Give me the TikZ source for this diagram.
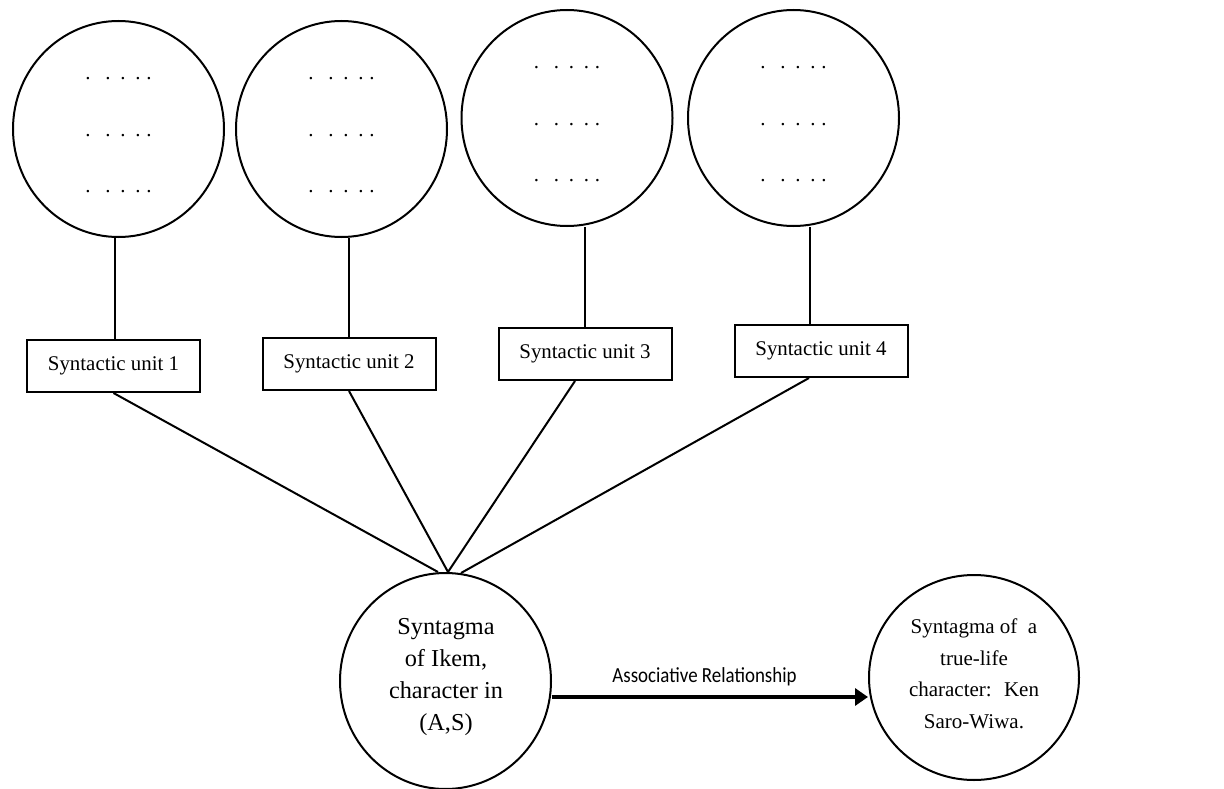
\documentclass[tikz,border=0pt]{standalone}
\usepackage{fontspec}
\setmainfont{Liberation Serif}
\newfontfamily\calib[FakeStretch=0.88]{Carlito}
\usetikzlibrary{shapes.geometric,arrows.meta}
\tikzset{
  ring/.style={draw, ellipse, line width=2pt, minimum width=211pt, minimum height=216pt, inner sep=0pt},
  unitbox/.style={draw, rectangle, line width=2pt, minimum width=173pt, minimum height=52pt, inner sep=0pt, font=\fontsize{20.9}{25}\selectfont},
  dots/.style={anchor=base, inner sep=0pt, font=\fontsize{20.9}{25}\selectfont},
  link/.style={line width=2pt},
  bigtext/.style={align=center, inner sep=0pt, font=\fontsize{24.3}{31.7}\selectfont},
  kentext/.style={align=center, inner sep=0pt, font=\fontsize{21}{31.5}\selectfont},
  arr/.style={line width=3.5pt, -{Triangle[length=13pt,width=17pt]}}
}
\newcommand{\dotrow}{.\hspace{14.8pt}.\hspace{9.8pt}.\hspace{9.8pt}.\hspace{5.8pt}.}
\begin{document}
\begin{tikzpicture}[x=1pt,y=-1pt]
\useasboundingbox (0,0) rectangle (1224,789);
% top circles
\node[ring] (c1) at (118.5,129) {};
\node[ring] (c2) at (341.5,129) {};
\node[ring] (c3) at (567,118) {};
\node[ring] (c4) at (793.5,118) {};
% dots
\foreach \c/\x/\y in {1/118.5/129, 2/341.5/129, 3/567/118, 4/793.5/118}{
  \node[dots] (d\c a) at (\x,\y-49) {\dotrow};
  \node[dots] (d\c b) at (\x,\y+8) {\dotrow};
  \node[dots] (d\c c) at (\x,\y+64) {\dotrow};
}
% boxes
\node[unitbox] (b1) at (113.5,366) {Syntactic unit 1};
\node[unitbox] (b2) at (349,364) {Syntactic unit 2};
\node[unitbox] (b3) at (585,354) {Syntactic unit 3};
\node[unitbox] (b4) at (821,351) {Syntactic unit 4};
% vertical links
\draw[link] ([xshift=1.5pt]b1.north) -- ([xshift=1.5pt]b1.north |- c1.south);
\draw[link] (b2.north) -- (b2.north |- c2.south);
\draw[link] ([xshift=-0.5pt]b3.north) -- ([xshift=-0.5pt]b3.north |- c3.south);
\draw[link] ([xshift=-11.5pt]b4.north) -- ([xshift=-11.5pt]b4.north |- c4.south);
% Ikem circle
\node[draw, ellipse, line width=2pt, minimum width=211pt, minimum height=216pt, inner sep=0pt] (ik) at (445.5,681) {};
\node[bigtext, anchor=base] (ikt) at (446,730) {Syntagma\\of Ikem,\\character in\\(A,S)};
% Ken Saro-Wiwa ellipse
\node[draw, ellipse, line width=2pt, minimum width=210pt, minimum height=205pt, inner sep=0pt] (ks) at (974,677.5) {};
\node[kentext, anchor=base] (kst) at (974,728) {Syntagma of~ a\\true-life\\character:~ Ken\\Saro-Wiwa.};
% diagonal links
\draw[link] (b1.south) -- ([xshift=-7.5pt]ik.north);
\draw[link] (b2.south) -- ([xshift=2.5pt]ik.north);
\draw[link] ([xshift=-10pt]b3.south) -- ([xshift=2.5pt]ik.north);
\draw[link] ([xshift=-12pt]b4.south) -- ([xshift=15.5pt,yshift=-1pt]ik.north);
% arrow
\draw[arr] ([yshift=-16pt]ik.east) -- ([yshift=-16pt]ik.east -| ks.west);
\node[font=\calib\fontsize{21.5}{25}\selectfont, inner sep=0pt, anchor=base] (lab) at (704.5,682) {Associative Relationship};
\end{tikzpicture}
\end{document}
